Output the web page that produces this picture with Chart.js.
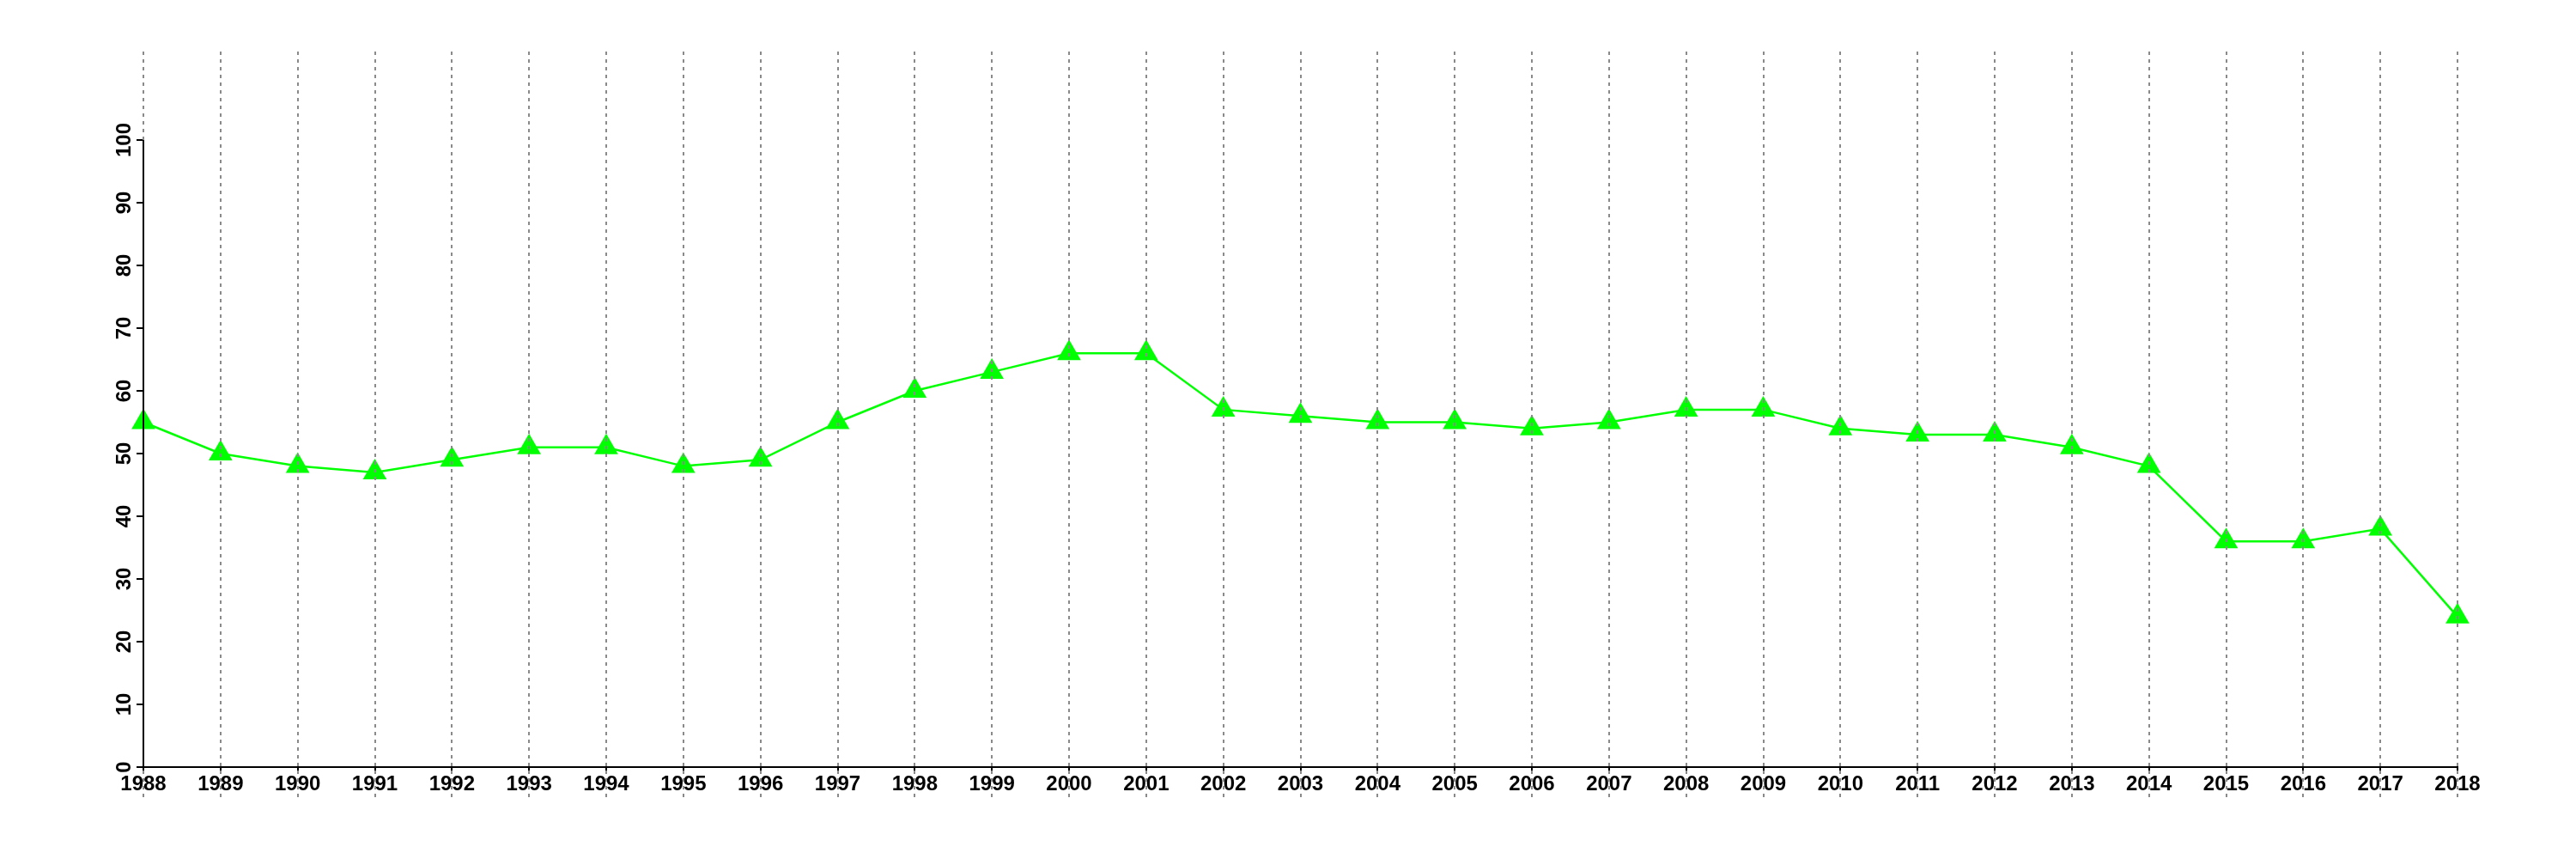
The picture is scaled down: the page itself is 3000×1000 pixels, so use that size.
<!DOCTYPE html>
<html>
<head>
<meta charset="utf-8">
<script src="https://cdn.jsdelivr.net/npm/chart.js@4/dist/chart.umd.min.js"></script>
<style>
  html, body { margin: 0; padding: 0; background: #fff; }
  canvas { display: block; }
</style>
</head>
<body>
<canvas id="chart" width="3000" height="1000" style="width:3000px;height:1000px"></canvas>
<script>
// valores
const years = ['1988', '1989', '1990', '1991', '1992', '1993', '1994', '1995', '1996', '1997',
  '1998', '1999', '2000', '2001', '2002', '2003', '2004', '2005', '2006', '2007',
  '2008', '2009', '2010', '2011', '2012', '2013', '2014', '2015', '2016', '2017', '2018'];
const values = [55, 50, 48, 47, 49, 51, 51, 48, 49, 55,
  60, 63, 66, 66, 57, 56, 55, 55, 54, 55,
  57, 57, 54, 53, 53, 51, 48, 36, 36, 38, 24];
const yTicks = [0, 10, 20, 30, 40, 50, 60, 70, 80, 90, 100];

const labelFont = { family: 'Liberation Sans, Arial, sans-serif', size: 24, weight: 'bold' };

// linhas pontilhadas verticais (desenhadas por cima de tudo) e rótulos girados do eixo y
const overlayPlugin = {
  id: 'overlay',
  afterDraw(chart) {
    const ctx = chart.ctx;
    const x = chart.scales.x;
    const y = chart.scales.y;
    const area = chart.chartArea;

    ctx.save();
    ctx.strokeStyle = '#8a8a8a';
    ctx.lineWidth = 2;
    ctx.setLineDash([4, 5]);
    for (let i = 0; i < years.length; i++) {
      const px = Math.round(x.getPixelForTick(i));
      ctx.beginPath();
      ctx.moveTo(px, 60);
      ctx.lineTo(px, 928);
      ctx.stroke();
    }
    ctx.restore();

    // o eixo y fica preto por cima da primeira linha pontilhada
    ctx.save();
    ctx.strokeStyle = '#000';
    ctx.lineWidth = 2;
    ctx.beginPath();
    ctx.moveTo(area.left, area.top);
    ctx.lineTo(area.left, area.bottom);
    ctx.stroke();
    ctx.restore();

    ctx.save();
    ctx.fillStyle = '#000';
    ctx.font = 'bold 24px "Liberation Sans", Arial, sans-serif';
    ctx.textAlign = 'center';
    ctx.textBaseline = 'alphabetic';
    for (const v of yTicks) {
      const py = y.getPixelForValue(v);
      ctx.save();
      ctx.translate(152, py);
      ctx.rotate(-Math.PI / 2);
      ctx.fillText(String(v), 0, 0);
      ctx.restore();
    }
    ctx.restore();
  }
};

const ctx = document.getElementById('chart').getContext('2d');
new Chart(ctx, {
  type: 'line',
  data: {
    labels: years,
    datasets: [{
      data: values,
      borderColor: '#00ff00',
      borderWidth: 2.5,
      backgroundColor: '#00ff00',
      pointStyle: 'triangle',
      pointRadius: 16,
      pointHoverRadius: 16,
      pointBorderWidth: 0,
      pointBackgroundColor: '#00ff00',
      tension: 0,
      fill: false
    }]
  },
  options: {
    responsive: false,
    animation: false,
    layout: { padding: { top: 163, right: 138, bottom: 0, left: 0 } },
    plugins: {
      legend: { display: false },
      tooltip: { enabled: false }
    },
    scales: {
      x: {
        type: 'category',
        offset: false,
        grid: {
          display: true,
          drawOnChartArea: false,
          drawTicks: true,
          tickLength: 7,
          color: '#000',
          lineWidth: 2
        },
        border: { display: true, color: '#000', width: 2 },
        ticks: {
          color: '#000',
          font: labelFont,
          padding: -1,
          maxRotation: 0,
          minRotation: 0,
          autoSkip: false
        },
        afterFit(scale) { scale.height = 107; }
      },
      y: {
        min: 0,
        max: 100,
        grid: {
          display: true,
          drawOnChartArea: false,
          drawTicks: true,
          tickLength: 8,
          color: '#000',
          lineWidth: 2
        },
        border: { display: true, color: '#000', width: 2 },
        ticks: { display: false, stepSize: 10 },
        afterFit(scale) { scale.width = 167; }
      }
    }
  },
  plugins: [overlayPlugin]
});
</script>
</body>
</html>
